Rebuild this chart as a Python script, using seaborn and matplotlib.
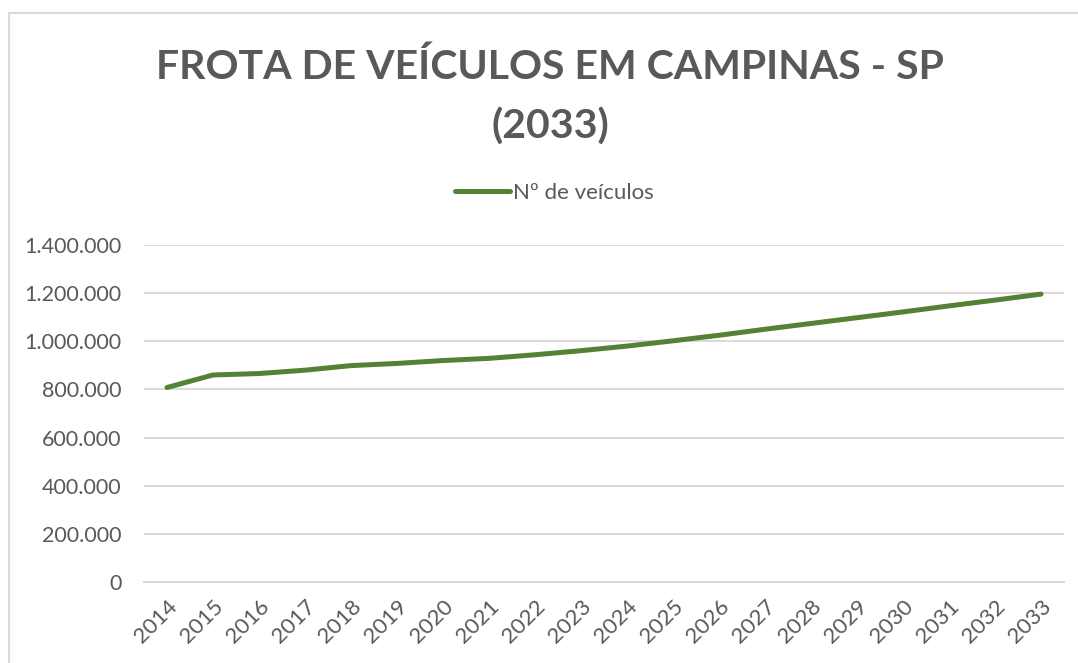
import numpy as np
import pandas as pd
import matplotlib
matplotlib.use("Agg")
import matplotlib.pyplot as plt
from matplotlib.patches import Rectangle
import seaborn as sns

# dados
anos = [2014, 2015, 2016, 2017, 2018, 2019, 2020, 2021, 2022, 2023,
        2024, 2025, 2026, 2027, 2028, 2029, 2030, 2031, 2032, 2033]
veiculos = [808000, 860000, 866000, 880000, 899000, 908000, 920000, 929000, 944000, 961000,
            980000, 1002000, 1025000, 1050000, 1074000, 1098000, 1122000, 1147000, 1171000, 1196000]
yticks = [0, 200000, 400000, 600000, 800000, 1000000, 1200000, 1400000]
titulo = "FROTA DE VEÍCULOS EM CAMPINAS - SP\n(2033)"
serie = "Nº de veículos"

df = pd.DataFrame({"ano": anos, "veiculos": veiculos})

sns.set_theme(style="white")
plt.rcParams["font.family"] = ["Lato", "DejaVu Sans"]

cinza = "#595959"
grade = "#D9D9D9"

fig = plt.figure(figsize=(10.78, 6.63), dpi=100)
ax = fig.add_axes([144 / 1078, 81 / 663, 920 / 1078, 337 / 663])

sns.lineplot(data=df, x="ano", y="veiculos", ax=ax, color="#548235",
             linewidth=3.6, label=serie, solid_capstyle="round")

ax.set_xlim(2013.5, 2033.5)
ax.set_ylim(0, 1400000)
ax.set_yticks(yticks)
ax.set_yticklabels([f"{v:,}".replace(",", ".") for v in yticks], color=cinza, fontsize=15.5)
ax.set_xticks(anos)
ax.set_xticklabels([str(a) for a in anos], rotation=45, ha="right",
                   rotation_mode="anchor", color=cinza, fontsize=16)
ax.tick_params(axis="both", length=0)
ax.tick_params(axis="y", pad=16)
ax.tick_params(axis="x", pad=10)
ax.grid(axis="y", color=grade, linewidth=1.4)
ax.set_axisbelow(True)
for s in ["top", "right", "left"]:
    ax.spines[s].set_visible(False)
ax.spines["bottom"].set_color(grade)
ax.spines["bottom"].set_linewidth(1.4)
ax.set_xlabel("")
ax.set_ylabel("")

leg = ax.legend(loc="center", bbox_to_anchor=(554 / 1078, 1 - 193 / 663),
                bbox_transform=fig.transFigure, frameon=False, fontsize=16,
                handlelength=2.5, handletextpad=0.1)
for t in leg.get_texts():
    t.set_color(cinza)

fig.text(550 / 1078, 1 - 97 / 663, titulo, ha="center", va="center",
         fontsize=29.5, fontweight="bold", color=cinza, linespacing=1.68)

fig.patches.append(Rectangle((9 / 1078, -0.01), 1.0, 1 - 13 / 663 + 0.01,
                             transform=fig.transFigure, fill=False,
                             edgecolor=grade, linewidth=1.5))

fig.savefig("out.png", dpi=100, facecolor="white")
